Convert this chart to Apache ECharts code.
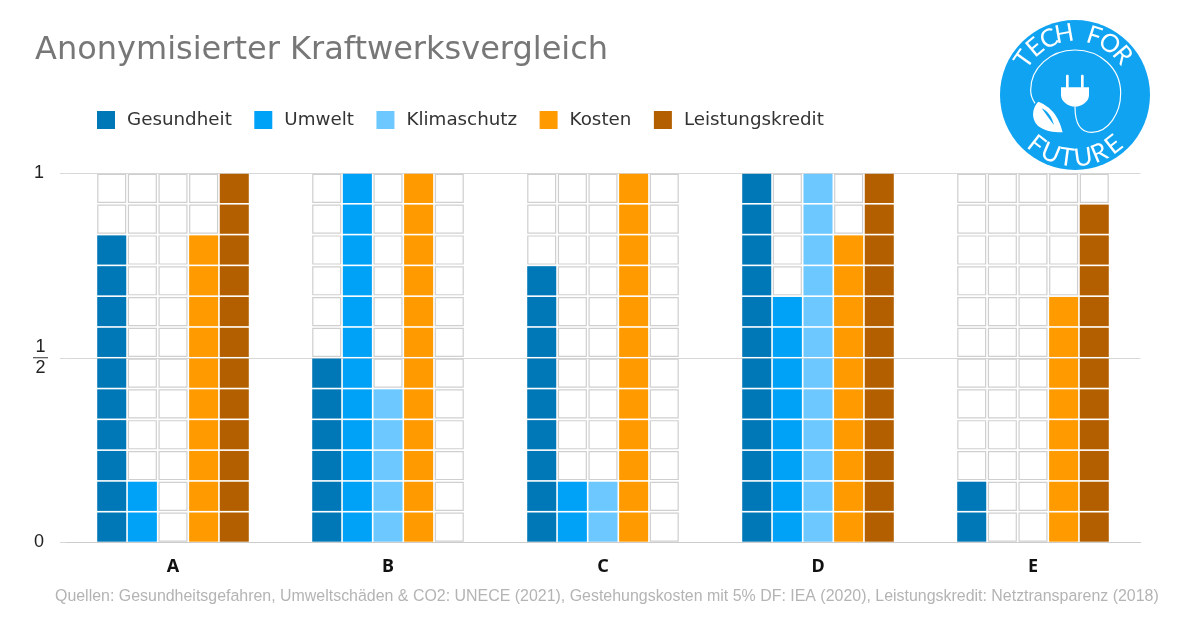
<!DOCTYPE html>
<html style="height: 100%">
<head>
<meta charset="utf-8">
<script src="https://cdn.jsdelivr.net/npm/echarts@6/dist/echarts.min.js"></script>
</head>
<body style="height: 100%; margin: 0; background: #fff">
<div id="container" style="width: 1200px; height: 630px"></div>
<script>
var categories = ['A', 'B', 'C', 'D', 'E'];
// values counted in twelfths of the scale (12 = 1)
var gesundheit = [10, 6, 9, 12, 2];
var umwelt = [2, 12, 2, 8, 0];
var klimaschutz = [0, 5, 2, 12, 0];
var kosten = [10, 12, 12, 10, 8];
var leistungskredit = [12, 0, 0, 12, 11];
var seriesNames = ['Gesundheit', 'Umwelt', 'Klimaschutz', 'Kosten', 'Leistungskredit'];
var seriesValues = [gesundheit, umwelt, klimaschutz, kosten, leistungskredit];
var seriesColors = ['#0077B6', '#00A2F8', '#6CC8FF', '#FF9A00', '#B35F00'];
var cellsPerColumn = 12;
var titleText = 'Anonymisierter Kraftwerksvergleich';
var sourceText = 'Quellen: Gesundheitsgefahren, Umweltschäden & CO2: UNECE (2021), Gestehungskosten mit 5% DF: IEA (2020), Leistungskredit: Netztransparenz (2018)';

var sansFont = '"Liberation Sans", Arial, sans-serif';
var wideFont = '"DejaVu Sans", sans-serif';
var logoBlue = '#0FA3F2';

function cellRenderer(seriesIndex) {
    return function (params, api) {
        var band = api.size([1, 0])[0];
        var pitch = band * 0.1425;
        var width = pitch - 1.6;
        var center = api.coord([api.value(0), 0])[0] + (seriesIndex - 2) * pitch;
        var filled = api.value(1);
        var children = [];
        for (var k = 0; k < cellsPerColumn; k++) {
            var y0 = api.coord([api.value(0), k])[1];
            var y1 = api.coord([api.value(0), k + 1])[1];
            var on = k < filled;
            children.push({
                type: 'rect',
                shape: on
                    ? { x: center - width / 2, y: y1 + 0.8, width: width, height: y0 - y1 - 1.6 }
                    : { x: center - width / 2 + 0.6, y: y1 + 1.4, width: width - 1.2, height: y0 - y1 - 2.8 },
                style: on
                    ? { fill: seriesColors[seriesIndex] }
                    : { fill: '#fff', stroke: '#cfcfcf', lineWidth: 1.2 }
            });
        }
        return { type: 'group', children: children };
    };
}

// letters around the logo ring
function ringLetters(text, startAngle, stepAngle, radius, bottom) {
    var out = [];
    for (var i = 0; i < text.length; i++) {
        var a = (startAngle + i * stepAngle) * Math.PI / 180;
        out.push({
            type: 'text',
            x: 1075 + radius * Math.sin(a),
            y: 95 + (bottom ? 1 : -1) * radius * Math.cos(a),
            rotation: bottom ? a : -a,
            style: {
                text: text[i], fill: '#fff', font: '400 25px Lato, sans-serif',
                align: 'center', verticalAlign: 'middle'
            }
        });
    }
    return out;
}

function renderLogo() {
    return {
        type: 'group',
        children: [
            { type: 'circle', shape: { cx: 1075, cy: 95, r: 75 }, style: { fill: logoBlue } },
            {
                type: 'group', x: 980, y: 0, scaleX: 1 / 3, scaleY: 1 / 3,
                children: [
                    { type: 'path', shape: { pathData: 'M285 320 C285 360 295 397 335 397 C385 397 422 340 422 280 C422 205 360 150 285 150 C210 150 152 205 152 270 C152 285 158 300 165 310' },
                      style: { fill: null, stroke: '#fff', lineWidth: 3.5 } },
                    { type: 'path', shape: { pathData: 'M243 262 H327 V285 C327 305 305 320 285 320 C265 320 243 305 243 285 Z' }, style: { fill: '#fff' } },
                    { type: 'rect', shape: { x: 258, y: 224, width: 8, height: 40, r: 3 }, style: { fill: '#fff' } },
                    { type: 'rect', shape: { x: 303, y: 224, width: 8, height: 40, r: 3 }, style: { fill: '#fff' } },
                    { type: 'path', shape: { pathData: 'M175 305 C155 325 150 365 185 385 C205 397 230 397 248 397 C240 365 225 325 175 305 Z' }, style: { fill: '#fff' } },
                    { type: 'path', shape: { pathData: 'M185 325 C200 345 210 360 222 375 C215 350 205 335 185 325 Z' }, style: { fill: logoBlue } }
                ]
            }
        ].concat(
            ringLetters('TECH', -55, 15, 62, false),
            ringLetters('FOR', 18, 16, 62, false),
            ringLetters('FUTURE', -38, 15.2, 63, true)
        )
    };
}

var dom = document.getElementById('container');
var myChart = echarts.init(dom, null, { renderer: 'canvas' });

var cellSeries = seriesNames.map(function (name, s) {
    return {
        name: name, type: 'custom',
        itemStyle: { color: seriesColors[s] },
        renderItem: cellRenderer(s),
        encode: { x: 0, y: 1 },
        data: seriesValues[s].map(function (v, i) { return [i, v]; })
    };
});

var option = {
    animation: false,
    backgroundColor: '#fff',
    title: {
        text: titleText, left: 30, top: 30,
        textStyle: { fontFamily: wideFont, fontWeight: 'normal', fontSize: 32, color: '#777' }
    },
    legend: {
        left: 92, top: 106, itemWidth: 18, itemHeight: 18, itemGap: 22.5,
        icon: 'rect',
        data: seriesNames,
        textStyle: { fontFamily: wideFont, fontSize: 18.3, color: '#333', padding: [0, 0, 0, 7] }
    },
    grid: { left: 65.5, right: 59.5, top: 173, bottom: 87.5 },
    xAxis: {
        type: 'category', data: categories,
        axisLine: { lineStyle: { color: '#ccc' } },
        axisTick: { show: false },
        axisLabel: { margin: 15, fontFamily: '"Noto Sans", sans-serif', fontWeight: 'bold', fontSize: 18, color: '#111' }
    },
    yAxis: {
        type: 'value', min: 0, max: cellsPerColumn, interval: 6,
        axisLine: { show: false },
        axisTick: { show: true, length: 5.5, lineStyle: { color: '#d8d8d8' } },
        splitLine: { lineStyle: { color: '#d8d8d8' } },
        axisLabel: {
            margin: 17.5, fontFamily: sansFont, fontSize: 17, color: '#222', align: 'right',
            formatter: function (v) {
                if (v === 6) return '{n|1}\n{bar|}\n{n|2}';
                return v === 0 ? '{v|0}' : '{v|1}';
            },
            rich: {
                v: { fontFamily: sansFont, fontSize: 18, color: '#222', padding: [0, 4, 0, 0] },
                n: { fontFamily: sansFont, fontSize: 18, color: '#222', align: 'center', width: 15, lineHeight: 19 },
                bar: { width: 15, height: 1, backgroundColor: '#333', lineHeight: 2 }
            }
        }
    },
    graphic: [{
        type: 'text', left: 55, top: 589,
        style: { text: sourceText, fill: '#b4b4b4', font: '15.95px ' + sansFont }
    }],
    series: cellSeries.concat([{
        type: 'custom', coordinateSystem: 'none', silent: true,
        renderItem: renderLogo,
        data: [0]
    }])
};

if (option && typeof option === 'object') {
    myChart.setOption(option, true);
}
</script>
</body>
</html>
